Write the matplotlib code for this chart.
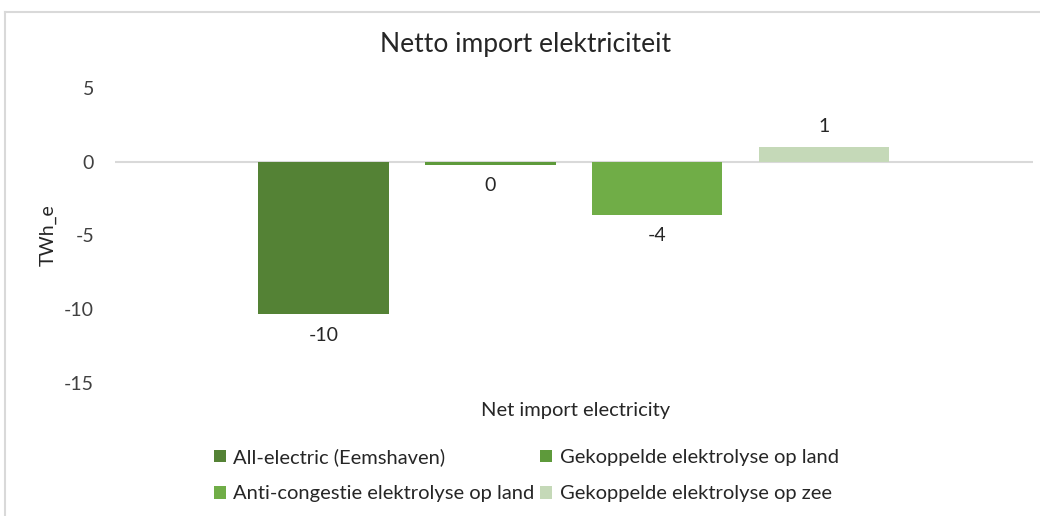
import matplotlib
matplotlib.use("Agg")
import matplotlib.pyplot as plt
from matplotlib.lines import Line2D

plt.rcParams['font.family'] = ['Lato', 'DejaVu Sans']

series = ["All-electric (Eemshaven)", "Gekoppelde elektrolyse op land",
          "Anti-congestie elektrolyse op land", "Gekoppelde elektrolyse op zee"]
values = [-10.35, -0.2, -3.6, 1.0]
labels = ["-10", "0", "-4", "1"]
colors = ["#548235", "#5E9A3B", "#70AD47", "#C5D9B8"]
category = "Net import electricity"
yticks = [5, 0, -5, -10, -15]

fig = plt.figure(figsize=(10.4, 5.16), dpi=100)
ax = fig.add_axes([0.1106, 0.2578, 0.8824, 0.5717])

width = 0.142
step = 0.1818
handles = []
for i, (s, v, lab, c) in enumerate(zip(series, values, labels, colors)):
    x = (i - 1.5) * step
    b = ax.bar(x, v, width=width, color=c, label=s, zorder=2)
    handles.append(b)
    off = 15 if v >= 0 else -15
    ax.annotate(lab, (x, v), xytext=(0, off), textcoords="offset points",
                ha="center", va="center", fontsize=14, color="#262626")

ax.set_xlim(-0.5, 0.5)
ax.set_ylim(-15, 5)
ax.set_yticks(yticks)
ax.set_yticklabels([str(t) for t in yticks], fontsize=14, color="#404040")
ax.set_xticks([])
ax.axhline(0, color="#D9D9D9", lw=1.5, zorder=1)
for sp in ax.spines.values():
    sp.set_visible(False)
ax.tick_params(axis="y", length=0, pad=15)
ax.set_ylabel("TWh_e", fontsize=14, color="#262626", labelpad=5)

fig.text(0.553, 0.205, category, ha="center", va="center", fontsize=14.5, color="#262626")
fig.text(0.505, 0.913, "Netto import elektriciteit", ha="center", va="center",
         fontsize=19, color="#262626")

order = [0, 2, 1, 3]
leg = fig.legend([handles[i] for i in order], [series[i] for i in order],
                 ncol=2, loc="center", bbox_to_anchor=(0.506, 0.079),
                 frameon=False, fontsize=14.5, handlelength=0.6, handleheight=0.6,
                 handletextpad=0.35, columnspacing=0.3, labelspacing=0.95)
for t in leg.get_texts():
    t.set_color("#262626")

# chart area border (top and left visible)
fig.add_artist(Line2D([5/1040, 1.0], [1-12/516, 1-12/516], color="#D9D9D9", lw=1.5,
                      transform=fig.transFigure))
fig.add_artist(Line2D([5/1040, 5/1040], [0, 1-12/516], color="#D9D9D9", lw=1.5,
                      transform=fig.transFigure))

fig.savefig("out.png", dpi=100, facecolor="white")
